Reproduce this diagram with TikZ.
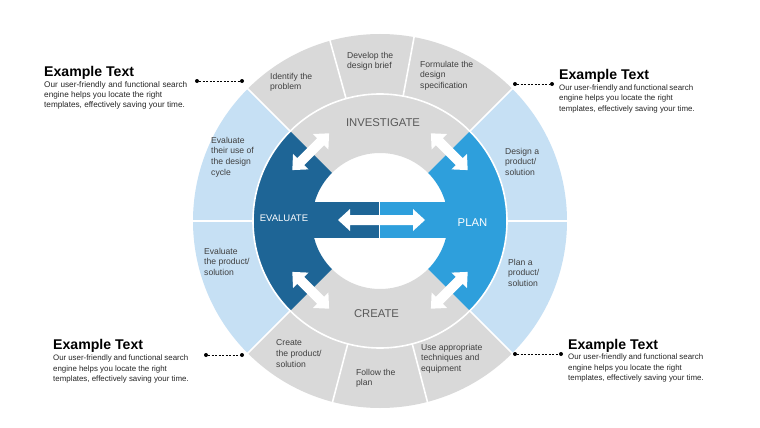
\documentclass[tikz,border=0pt]{standalone}
\usepackage{fontspec}
\setmainfont{Liberation Sans}
\definecolor{cgray}{RGB}{217,217,217}
\definecolor{lblue}{RGB}{198,224,244}
\definecolor{mblue}{RGB}{46,159,220}
\definecolor{dblue}{RGB}{30,101,150}
\definecolor{segtext}{RGB}{64,64,64}
\definecolor{bigtext}{RGB}{89,89,89}
\definecolor{bodytext}{RGB}{38,38,38}
\newcommand\annsec[5]{\fill[#1] (#2:#4pt) arc[start angle=#2, end angle=#3, radius=#4pt] -- (#3:#5pt) arc[start angle=#3, end angle=#2, radius=#5pt] -- cycle;}
\newcommand\dblarrowshape[1]{\fill[white,#1] (-26pt,0pt) -- (-14pt,11pt) -- (-14pt,5pt) -- (14pt,5pt) -- (14pt,11pt) -- (26pt,0pt) -- (14pt,-11pt) -- (14pt,-5pt) -- (-14pt,-5pt) -- (-14pt,-11pt) -- cycle;}
\begin{document}
\begin{tikzpicture}[x=1pt,y=-1pt,
 sep/.style={white,line width=1.6pt},
 seglabel/.style={font=\fontsize{8.6}{10.6}\selectfont, text=segtext, align=left, inner sep=0pt, anchor=west},
 biglabel/.style={font=\fontsize{11.3}{13}\selectfont, text=bigtext, inner sep=0pt},
 phase/.style={font=\fontsize{11.3}{13}\selectfont, text=white, inner sep=0pt},
 extitle/.style={font=\bfseries\fontsize{14.1}{16}\selectfont, text=black, inner sep=0pt, anchor=base west},
 exbody/.style={font=\fontsize{7.9}{10.3}\selectfont, text=bodytext, align=left, inner sep=0pt, anchor=north west},
 dotnode/.style={circle, fill=black, inner sep=0pt, minimum size=4pt},
 dashline/.style={black, dash pattern=on 2pt off 1.5pt, line width=0.9pt}]
\useasboundingbox[fill=white] (0,0) rectangle (760,428);
\begin{scope}[shift={(380,221)}]
 \annsec{cgray}{45}{135}{68}{187}
 \annsec{cgray}{225}{315}{68}{187}
 \annsec{lblue}{135}{225}{127}{187}
 \annsec{dblue}{135}{225}{68}{127}
 \annsec{lblue}{-45}{45}{127}{187}
 \annsec{mblue}{-45}{45}{68}{127}
 \draw[sep] (0pt,0pt) circle[radius=127pt];
 \foreach \a in {45,135,225,315,0,180,105.5,79.5,255.3,284.7}
   {\draw[sep] (\a:127pt) -- (\a:189pt);}
 \foreach \a in {45,135,225,315}
   {\dblarrowshape{shift={(\a:98pt)}, rotate=\a+90}}
\end{scope}
% central band
\fill[dblue] (310,202) rectangle (378.6,238);
\fill[mblue] (380.2,202) rectangle (450,238);
\fill[white] (338,220) -- (350,209) -- (350,215) -- (413,215) -- (413,209) -- (425,220) -- (413,231) -- (413,225) -- (350,225) -- (350,231) -- cycle;
% phase labels
\node[biglabel] (inv) at (383,123) {INVESTIGATE};
\node[biglabel] (cre) at (376.5,314) {CREATE};
\node[phase, font=\fontsize{9.5}{11}\selectfont] (eva) at (284,218.5) {EVALUATE};
\node[phase] (pla) at (472.5,223) {PLAN};
% segment labels
\node[seglabel] (s1) at (270,82.3) {Identify the\\problem};
\node[seglabel] (s2) at (347,61.3) {Develop the\\design brief};
\node[seglabel] (s3) at (420,75.6) {Formulate the\\design\\specification};
\node[seglabel] (s4) at (211,156.9) {Evaluate\\their use of\\the design\\cycle};
\node[seglabel] (s5) at (505,161.6) {Design a\\product/\\solution};
\node[seglabel] (s6) at (204,261.6) {Evaluate\\the product/\\solution};
\node[seglabel] (s7) at (508,272.6) {Plan a\\product/\\solution};
\node[seglabel] (s8) at (276,353.6) {Create\\the product/\\solution};
\node[seglabel] (s9) at (356,378.3) {Follow the\\plan};
\node[seglabel] (s10) at (421,358.6) {Use appropriate\\techniques and\\equipment};
% example text blocks
\node[extitle] (t1) at (44,77) {Example Text};
\node[exbody, font=\fontsize{8.2}{10.2}\selectfont] (b1) at (44,81) {\makebox[143pt][s]{Our user-friendly and functional search}\\engine helps you locate the right\\templates, effectively saving your time.};
\node[extitle] (t2) at (559,79.3) {Example Text};
\node[exbody] (b2) at (559,84.5) {\makebox[134pt][s]{Our user-friendly and functional search}\\engine helps you locate the right\\templates, effectively saving your time.};
\node[extitle] (t3) at (53,349.3) {Example Text};
\node[exbody] (b3) at (53,355) {\makebox[135pt][s]{Our user-friendly and functional search}\\engine helps you locate the right\\templates, effectively saving your time.};
\node[extitle] (t4) at (568,349.3) {Example Text};
\node[exbody] (b4) at (568,354) {\makebox[135pt][s]{Our user-friendly and functional search}\\engine helps you locate the right\\templates, effectively saving your time.};
% dotted connectors
\node[dotnode] (d1a) at (197,81) {};
\node[dotnode] (d1b) at (242,81) {};
\draw[dashline] (d1a) -- (d1b);
\node[dotnode] (d2a) at (515,84) {};
\node[dotnode] (d2b) at (552,84) {};
\draw[dashline] (d2a) -- (d2b);
\node[dotnode] (d3a) at (206,355) {};
\node[dotnode] (d3b) at (242,355) {};
\draw[dashline] (d3a) -- (d3b);
\node[dotnode] (d4a) at (515,354) {};
\node[dotnode] (d4b) at (561,354) {};
\draw[dashline] (d4a) -- (d4b);
\end{tikzpicture}
\end{document}
